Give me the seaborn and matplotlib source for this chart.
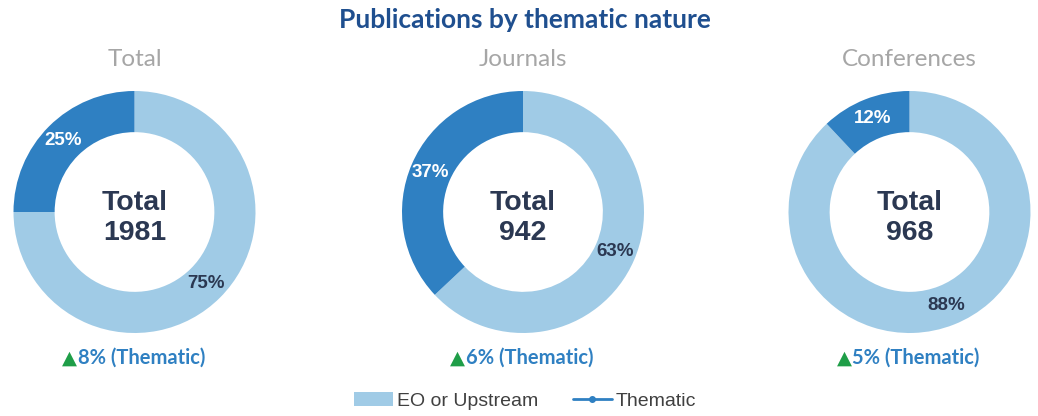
import matplotlib
matplotlib.use("Agg")
import matplotlib.pyplot as plt
from matplotlib.patches import Patch
from matplotlib.lines import Line2D
import seaborn as sns

# Publication counts and thematic split
categories = ["Total", "Journals", "Conferences"]
totals = [1981, 942, 968]
eo_share = [75, 63, 88]
thematic_share = [25, 37, 12]
thematic_growth = [8, 6, 5]
series_names = ["EO or Upstream", "Thematic"]

sns.set_theme(style="white")
plt.rcParams["font.family"] = ["Liberation Sans", "DejaVu Sans"]

LIGHT = "#a0cbe6"
DARK = "#2f80c2"
NAVY = "#2b3852"
GREY = "#a6a6a6"
GREEN = "#1f9e48"
TITLE_BLUE = "#1f4f8f"

W, H = 1038, 416
fig = plt.figure(figsize=(W / 100, H / 100), dpi=100)
fig.patch.set_facecolor("white")


def fx(px):
    return px / W


def fy(py):
    return 1 - py / H


centers = [134.5, 523, 909.5]
cy = 212
R = 121

for cx, cat, tot, eo, th, gr in zip(centers, categories, totals, eo_share,
                                     thematic_share, thematic_growth):
    ax = fig.add_axes([fx(cx - R), fy(cy + R), 2 * R / W, 2 * R / H])
    wedges, texts, autotexts = ax.pie(
        [eo, th],
        colors=[LIGHT, DARK],
        startangle=90,
        counterclock=False,
        radius=1.0,
        wedgeprops=dict(width=0.34, edgecolor="none"),
        autopct="%d%%",
        pctdistance=0.83,
        textprops=dict(fontsize=13.5, fontweight="bold"),
    )
    autotexts[0].set_color(NAVY)
    autotexts[1].set_color("white")
    ax.set_xlim(-1, 1)
    ax.set_ylim(-1, 1)
    ax.set_aspect("equal")
    ax.axis("off")
    ax.text(0, -0.05, f"Total\n{tot}", ha="center", va="center", fontsize=20.5,
            fontweight="bold", color=NAVY, linespacing=1.2)

    fig.text(fx(cx), fy(60), cat, ha="center", va="center", fontsize=17.5,
             color=GREY, family=["Lato", "DejaVu Sans"])
    fig.text(fx(cx - 58), fy(358), "\u25b2", ha="right", va="center",
             fontsize=14, color=GREEN, family=["DejaVu Sans"])
    fig.text(fx(cx - 57), fy(358), f"{gr}% (Thematic)", ha="left", va="center",
             fontsize=14.5, fontweight="bold", color=DARK,
             family=["Lato", "DejaVu Sans"])

fig.text(fx(525), fy(20), "Publications by thematic nature", ha="center",
         va="center", fontsize=19, fontweight="bold", color=TITLE_BLUE,
         family=["Lato", "DejaVu Sans"])

handles = [
    Patch(facecolor=LIGHT, edgecolor="none"),
    Line2D([0], [0], color=DARK, lw=2, marker="o", markersize=4),
]
fig.legend(handles, series_names, loc="center", bbox_to_anchor=(fx(525), fy(401)),
           ncol=2, frameon=False, fontsize=14, labelcolor="#404040",
           handlelength=2.0, handleheight=0.7, columnspacing=1.8,
           handletextpad=0.2)

fig.savefig("out.png", dpi=100, facecolor="white")
